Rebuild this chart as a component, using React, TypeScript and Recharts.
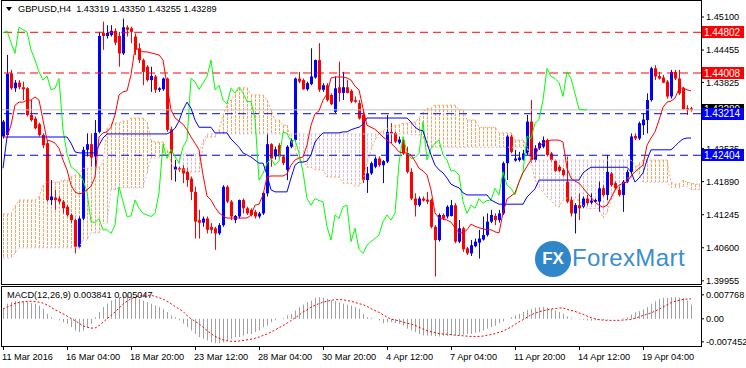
import React from "react";
import { ComposedChart, Bar, Line, XAxis, YAxis, ReferenceLine } from "recharts";

const FONT = '"Liberation Sans", Arial, sans-serif';

// GBPUSD H4, one candle per slot: [open, high, low, close]
const ohlc: [number, number, number, number][] = [
  [1.4277, 1.4309, 1.4273, 1.4306], [1.428, 1.4436, 1.4275, 1.4399], [1.44, 1.4407, 1.4368, 1.4371], [1.4371, 1.4387, 1.4364, 1.4382], [1.4382, 1.4387, 1.4369, 1.4373],
  [1.4373, 1.4384, 1.4348, 1.4369], [1.4371, 1.4373, 1.4316, 1.4319], [1.4319, 1.4348, 1.4306, 1.4309], [1.4312, 1.4316, 1.4291, 1.4293], [1.4301, 1.4304, 1.4277, 1.428],
  [1.428, 1.4283, 1.4254, 1.426], [1.4264, 1.427, 1.415, 1.4153], [1.4153, 1.4192, 1.4143, 1.416], [1.4158, 1.4173, 1.4134, 1.4153], [1.4156, 1.416, 1.4145, 1.415],
  [1.415, 1.4153, 1.4127, 1.4137], [1.414, 1.4143, 1.4121, 1.4124], [1.4124, 1.4127, 1.4109, 1.4114], [1.4114, 1.4117, 1.4049, 1.4062], [1.4062, 1.4121, 1.4059, 1.4117],
  [1.4117, 1.4257, 1.4114, 1.4251], [1.4251, 1.4283, 1.4238, 1.4262], [1.4262, 1.4283, 1.4218, 1.4236], [1.4238, 1.4309, 1.4218, 1.4284], [1.4286, 1.4481, 1.4283, 1.4473],
  [1.4479, 1.4501, 1.4446, 1.4473], [1.4473, 1.4494, 1.4468, 1.4479], [1.4475, 1.4494, 1.4472, 1.4483], [1.4483, 1.4488, 1.4455, 1.446], [1.4473, 1.4481, 1.4413, 1.4439],
  [1.4439, 1.4507, 1.4436, 1.449], [1.449, 1.4494, 1.4472, 1.4485], [1.4488, 1.4491, 1.4459, 1.4481], [1.4472, 1.4478, 1.4436, 1.4446], [1.4449, 1.4459, 1.442, 1.4426],
  [1.4426, 1.4429, 1.4377, 1.4403], [1.4413, 1.4416, 1.4384, 1.4387], [1.4387, 1.4413, 1.4364, 1.4395], [1.4394, 1.4397, 1.4362, 1.4368], [1.4368, 1.4373, 1.4364, 1.4371],
  [1.4369, 1.4392, 1.4366, 1.439], [1.439, 1.4392, 1.4286, 1.429], [1.4291, 1.4296, 1.4192, 1.4244], [1.4212, 1.4231, 1.4189, 1.4218], [1.4215, 1.4218, 1.4208, 1.4212],
  [1.4215, 1.4221, 1.4186, 1.4205], [1.4208, 1.4215, 1.4179, 1.4192], [1.4195, 1.4199, 1.4153, 1.4169], [1.4169, 1.4179, 1.4078, 1.4111], [1.4114, 1.4134, 1.4078, 1.4109],
  [1.4109, 1.4121, 1.4101, 1.4117], [1.4117, 1.4121, 1.4088, 1.4095], [1.4101, 1.4108, 1.4088, 1.4095], [1.4098, 1.4101, 1.4056, 1.4088], [1.4088, 1.4108, 1.4085, 1.4104],
  [1.4104, 1.4182, 1.4101, 1.4179], [1.4179, 1.4182, 1.4147, 1.415], [1.415, 1.4153, 1.4114, 1.4121], [1.4114, 1.4124, 1.4108, 1.4122], [1.4121, 1.4154, 1.4117, 1.4153],
  [1.4153, 1.4156, 1.4127, 1.4137], [1.4137, 1.414, 1.4124, 1.4127], [1.4134, 1.4137, 1.4121, 1.4124], [1.413, 1.4134, 1.4117, 1.4121], [1.4121, 1.413, 1.4117, 1.4127],
  [1.4127, 1.4169, 1.4124, 1.4167], [1.4166, 1.4283, 1.416, 1.4262], [1.4262, 1.4264, 1.4218, 1.4234], [1.4238, 1.4257, 1.4232, 1.4252], [1.426, 1.4264, 1.4234, 1.4238],
  [1.4238, 1.4241, 1.4221, 1.4225], [1.4212, 1.426, 1.4192, 1.4257], [1.4257, 1.4273, 1.4254, 1.427], [1.427, 1.4392, 1.4267, 1.439], [1.439, 1.4403, 1.4381, 1.4384],
  [1.4387, 1.439, 1.4368, 1.4369], [1.4369, 1.4384, 1.4366, 1.4381], [1.4379, 1.4449, 1.4377, 1.4394], [1.4392, 1.4427, 1.439, 1.4426], [1.4426, 1.4459, 1.4364, 1.4368],
  [1.4368, 1.4381, 1.4364, 1.4377], [1.4377, 1.4381, 1.4345, 1.4348], [1.4358, 1.4361, 1.4338, 1.434], [1.4325, 1.4394, 1.4322, 1.4371], [1.4373, 1.4423, 1.4345, 1.4362],
  [1.4362, 1.4403, 1.4348, 1.4373], [1.4373, 1.4387, 1.4361, 1.4362], [1.4366, 1.4369, 1.4342, 1.4345], [1.4348, 1.4355, 1.4342, 1.4345], [1.4342, 1.4348, 1.431, 1.4312],
  [1.4319, 1.4325, 1.4186, 1.4192], [1.4192, 1.4218, 1.4167, 1.4205], [1.4205, 1.4228, 1.4202, 1.4225], [1.4218, 1.4238, 1.4215, 1.4234], [1.4234, 1.4238, 1.4218, 1.4221],
  [1.4221, 1.4231, 1.4186, 1.4229], [1.4228, 1.4319, 1.4225, 1.4286], [1.4286, 1.4303, 1.4264, 1.4283], [1.4284, 1.4286, 1.4264, 1.4267], [1.4265, 1.4277, 1.4262, 1.4271],
  [1.427, 1.4273, 1.4241, 1.4244], [1.4244, 1.4257, 1.4205, 1.4208], [1.4208, 1.4215, 1.4153, 1.4156], [1.4156, 1.4166, 1.4121, 1.4143], [1.4143, 1.416, 1.414, 1.4156],
  [1.4156, 1.416, 1.415, 1.4152], [1.4154, 1.4169, 1.4145, 1.415], [1.4153, 1.4156, 1.4098, 1.4101], [1.4101, 1.4104, 1.4004, 1.4075], [1.4075, 1.4127, 1.4072, 1.4124],
  [1.4124, 1.4127, 1.4114, 1.4117], [1.4121, 1.4143, 1.4117, 1.414], [1.4122, 1.4153, 1.4121, 1.4143], [1.4143, 1.4147, 1.4069, 1.4072], [1.4072, 1.4114, 1.4069, 1.4098],
  [1.4098, 1.4101, 1.4052, 1.4057], [1.4059, 1.4062, 1.4046, 1.4049], [1.4049, 1.4075, 1.4044, 1.4065], [1.4063, 1.4078, 1.4061, 1.4072], [1.407, 1.4095, 1.4039, 1.4078],
  [1.4076, 1.4121, 1.4074, 1.4085], [1.4085, 1.4127, 1.4082, 1.4111], [1.4111, 1.4134, 1.4108, 1.4124], [1.4122, 1.4127, 1.4104, 1.4114], [1.4114, 1.4134, 1.4109, 1.4127],
  [1.4127, 1.4228, 1.4124, 1.4225], [1.4225, 1.428, 1.4192, 1.4277], [1.4277, 1.428, 1.4244, 1.4247], [1.423, 1.4251, 1.4228, 1.4234], [1.4231, 1.4247, 1.4228, 1.4236],
  [1.4232, 1.4251, 1.423, 1.4244], [1.4244, 1.4319, 1.4241, 1.4306], [1.4306, 1.4348, 1.4225, 1.4231], [1.4231, 1.426, 1.4228, 1.4254], [1.4254, 1.4267, 1.4251, 1.4264],
  [1.4257, 1.4277, 1.4254, 1.427], [1.427, 1.4273, 1.4238, 1.4241], [1.4244, 1.4247, 1.4228, 1.4231], [1.423, 1.4232, 1.4208, 1.421], [1.4218, 1.4221, 1.4208, 1.421],
  [1.4212, 1.4215, 1.4199, 1.4202], [1.4189, 1.4238, 1.4147, 1.415], [1.4153, 1.416, 1.4121, 1.4127], [1.4127, 1.4147, 1.4088, 1.4143], [1.4143, 1.4166, 1.4114, 1.4137],
  [1.414, 1.416, 1.4137, 1.4156], [1.4156, 1.4163, 1.4143, 1.4147], [1.4148, 1.4166, 1.4145, 1.4152], [1.415, 1.4156, 1.4147, 1.4153], [1.415, 1.4189, 1.413, 1.4176],
  [1.4176, 1.4182, 1.416, 1.4163], [1.4163, 1.4241, 1.4153, 1.4208], [1.4205, 1.4208, 1.4179, 1.4182], [1.4186, 1.4189, 1.4173, 1.4176], [1.4173, 1.4179, 1.416, 1.4163],
  [1.4163, 1.4192, 1.413, 1.4189], [1.4189, 1.4212, 1.4186, 1.4208], [1.4208, 1.4283, 1.4205, 1.4277], [1.4278, 1.4283, 1.427, 1.4273], [1.4273, 1.4306, 1.427, 1.4303],
  [1.4299, 1.4322, 1.428, 1.431], [1.4309, 1.4361, 1.4283, 1.4348], [1.4348, 1.4413, 1.4345, 1.441], [1.441, 1.4416, 1.4387, 1.4394], [1.4395, 1.4403, 1.4388, 1.439],
  [1.4392, 1.4397, 1.4381, 1.4382], [1.4384, 1.4387, 1.4351, 1.4355], [1.4355, 1.4407, 1.4351, 1.4403], [1.4403, 1.4407, 1.4387, 1.439], [1.439, 1.4407, 1.4358, 1.4361],
  [1.4371, 1.4374, 1.4329, 1.433], [1.4332, 1.4338, 1.4319, 1.4329], [1.43319, 1.4335, 1.43255, 1.43289],
];

// Ichimoku Tenkan-sen (red)
const tenkan = [
  1.4276, 1.4276, 1.4299, 1.4338, 1.4344, 1.4344, 1.4348, 1.4348, 1.4354, 1.4348,
  1.4309, 1.427, 1.4268, 1.4264, 1.4254, 1.4231, 1.4212, 1.4182, 1.4169, 1.4165,
  1.4167, 1.4173, 1.418, 1.4198, 1.4276, 1.4284, 1.4286, 1.4295, 1.4319, 1.4358,
  1.4364, 1.4366, 1.4397, 1.445, 1.4446, 1.4442, 1.4442, 1.444, 1.4438, 1.4436,
  1.4426, 1.4377, 1.4329, 1.4313, 1.4307, 1.4301, 1.429, 1.4276, 1.4264, 1.4251,
  1.4202, 1.4161, 1.4153, 1.4139, 1.4128, 1.4122, 1.4118, 1.4118, 1.4118, 1.4118,
  1.4118, 1.4118, 1.4124, 1.4143, 1.4145, 1.4163, 1.4198, 1.42, 1.42, 1.42,
  1.42, 1.4204, 1.4221, 1.4231, 1.4235, 1.4237, 1.426, 1.4299, 1.4321, 1.4327,
  1.4348, 1.436, 1.4391, 1.4393, 1.4393, 1.4393, 1.4391, 1.4387, 1.4375, 1.4368,
  1.4332, 1.4299, 1.4295, 1.4291, 1.4284, 1.4276, 1.427, 1.4264, 1.4256, 1.4247,
  1.4245, 1.4245, 1.4241, 1.4229, 1.4215, 1.421, 1.4202, 1.4173, 1.4128, 1.4118,
  1.4116, 1.4114, 1.411, 1.4099, 1.4089, 1.4089, 1.4095, 1.4106, 1.4102, 1.4099,
  1.4097, 1.4095, 1.4095, 1.4091, 1.4089, 1.4128, 1.4155, 1.4161, 1.4167, 1.4188,
  1.4206, 1.4219, 1.4231, 1.4237, 1.4258, 1.4264, 1.4268, 1.427, 1.427, 1.427,
  1.4266, 1.4215, 1.4196, 1.419, 1.4186, 1.4177, 1.4167, 1.4159, 1.4149, 1.4143,
  1.4139, 1.4143, 1.4157, 1.4173, 1.4182, 1.4186, 1.4188, 1.42, 1.4208, 1.4215,
  1.4221, 1.426, 1.4274, 1.4286, 1.4309, 1.4334, 1.4344, 1.4346, 1.4352, 1.437,
  1.4372, 1.4368, 1.4366,
];

// Ichimoku Kijun-sen (blue)
const kijun = [
  1.4215, 1.4276, 1.4276, 1.4276, 1.4276, 1.4276, 1.4276, 1.4276, 1.4276, 1.4276,
  1.4276, 1.4276, 1.4276, 1.4276, 1.4276, 1.4276, 1.4276, 1.4264, 1.4247, 1.4245,
  1.4245, 1.4245, 1.4245, 1.4245, 1.426, 1.4274, 1.4282, 1.4282, 1.4282, 1.4282,
  1.4282, 1.4282, 1.4282, 1.4282, 1.4282, 1.4282, 1.4282, 1.4282, 1.4282, 1.4282,
  1.4282, 1.4282, 1.4286, 1.4293, 1.4307, 1.4329, 1.4344, 1.4332, 1.4309, 1.4295,
  1.4295, 1.4295, 1.4295, 1.4284, 1.4284, 1.4284, 1.4284, 1.4272, 1.4264, 1.4256,
  1.4245, 1.4241, 1.4237, 1.4231, 1.4225, 1.4225, 1.4202, 1.4173, 1.4169, 1.4169,
  1.4169, 1.4169, 1.4196, 1.4221, 1.4227, 1.4227, 1.4229, 1.4241, 1.4266, 1.4276,
  1.4284, 1.4284, 1.4284, 1.4284, 1.4284, 1.4286, 1.4286, 1.429, 1.4293, 1.4295,
  1.4301, 1.4313, 1.4313, 1.4313, 1.4313, 1.4313, 1.4313, 1.4313, 1.4313, 1.4313,
  1.4313, 1.4313, 1.4305, 1.4295, 1.429, 1.4288, 1.4264, 1.4241, 1.4221, 1.4212,
  1.4206, 1.4196, 1.4184, 1.418, 1.4177, 1.4167, 1.4163, 1.4163, 1.4163, 1.4163,
  1.4163, 1.4163, 1.4153, 1.4149, 1.4145, 1.4145, 1.4145, 1.4145, 1.4145, 1.4145,
  1.4145, 1.4159, 1.4167, 1.4175, 1.4192, 1.4192, 1.4192, 1.4192, 1.4192, 1.4192,
  1.4192, 1.4192, 1.4192, 1.4192, 1.4192, 1.4206, 1.4212, 1.4217, 1.4217, 1.4217,
  1.4217, 1.4217, 1.4217, 1.4217, 1.4217, 1.4217, 1.4217, 1.4208, 1.4188, 1.4196,
  1.4206, 1.4231, 1.4251, 1.4251, 1.4251, 1.4251, 1.4251, 1.4251, 1.4258, 1.4266,
  1.4272, 1.4274, 1.4274,
];

// Senkou Span A (sandy brown), already shifted 26 bars ahead
const spanA = [
  1.4126, 1.4126, 1.4126, 1.4141, 1.4153, 1.4153, 1.4153, 1.4153, 1.4153, 1.4159,
  1.4182, 1.4188, 1.4188, 1.4188, 1.4188, 1.4192, 1.4192, 1.4198, 1.4202, 1.4202,
  1.4215, 1.4215, 1.4215, 1.4217, 1.4217, 1.4225, 1.4293, 1.4303, 1.4303, 1.4303,
  1.4307, 1.4307, 1.4313, 1.4313, 1.4313, 1.4313, 1.4305, 1.427, 1.4266, 1.4266,
  1.4266, 1.4251, 1.4227, 1.4212, 1.4212, 1.4212, 1.4212, 1.4208, 1.4208, 1.4208,
  1.426, 1.4276, 1.4276, 1.4276, 1.429, 1.4319, 1.4338, 1.4348, 1.4358, 1.4372,
  1.4372, 1.4372, 1.4358, 1.4358, 1.4358, 1.4358, 1.4348, 1.4329, 1.4309, 1.4309,
  1.4299, 1.4299, 1.427, 1.4251, 1.4231, 1.4231, 1.4217, 1.4217, 1.4212, 1.4212,
  1.4212, 1.4198, 1.4198, 1.4198, 1.4198, 1.4186, 1.4186, 1.4186, 1.418, 1.418,
  1.4192, 1.4225, 1.4251, 1.427, 1.4284, 1.4288, 1.4293, 1.4293, 1.4299, 1.4299,
  1.4303, 1.4303, 1.4305, 1.4305, 1.4313, 1.4325, 1.4332, 1.4332, 1.4338, 1.4338,
  1.4338, 1.4338, 1.4338, 1.4338, 1.4329, 1.4329, 1.4309, 1.4309, 1.4309, 1.4295,
  1.4295, 1.4295, 1.4295, 1.4295, 1.4284, 1.4284, 1.4284, 1.4284, 1.427, 1.427,
  1.427, 1.4258, 1.4231, 1.4192, 1.4178, 1.4169, 1.4159, 1.4153, 1.4143, 1.4139,
  1.4153, 1.4157, 1.4153, 1.4153, 1.4153, 1.4143, 1.4137, 1.4137, 1.4137, 1.4137,
  1.4118, 1.4128, 1.4153, 1.4169, 1.4178, 1.4186, 1.4196, 1.4196, 1.4212, 1.4225,
  1.4231, 1.4231, 1.4231, 1.4231, 1.4231, 1.4231, 1.4231, 1.4188, 1.4184, 1.4184,
  1.4192, 1.4188, 1.4186, 1.4184, 1.4184,
];

// Senkou Span B (thistle), already shifted 26 bars ahead
const spanB = [
  1.404, 1.404, 1.404, 1.405, 1.406, 1.406, 1.406, 1.406, 1.406, 1.406,
  1.406, 1.406, 1.406, 1.406, 1.406, 1.406, 1.406, 1.406, 1.406, 1.406,
  1.4075, 1.4075, 1.4089, 1.4089, 1.4089, 1.4108, 1.4108, 1.4173, 1.4173, 1.4177,
  1.4177, 1.4177, 1.4177, 1.4177, 1.4177, 1.4177, 1.4206, 1.4235, 1.4235, 1.4235,
  1.4241, 1.4241, 1.4241, 1.4241, 1.4243, 1.4243, 1.4243, 1.4243, 1.4243, 1.4243,
  1.427, 1.4282, 1.4282, 1.4282, 1.4282, 1.4282, 1.4282, 1.4282, 1.4282, 1.4282,
  1.4282, 1.4282, 1.4282, 1.4282, 1.4282, 1.4282, 1.4282, 1.4282, 1.4282, 1.4282,
  1.4282, 1.4282, 1.4282, 1.4282, 1.4282, 1.4282, 1.4282, 1.4282, 1.4282, 1.4282,
  1.4282, 1.4282, 1.4282, 1.4282, 1.4282, 1.4282, 1.4282, 1.4282, 1.4282, 1.4282,
  1.4282, 1.4282, 1.4282, 1.4282, 1.4282, 1.4282, 1.4282, 1.4282, 1.4282, 1.4282,
  1.4282, 1.4282, 1.428, 1.428, 1.428, 1.427, 1.4256, 1.4256, 1.4256, 1.4256,
  1.4256, 1.4256, 1.4256, 1.4256, 1.4256, 1.4256, 1.4256, 1.4256, 1.4256, 1.4256,
  1.4256, 1.4256, 1.4256, 1.4256, 1.4256, 1.4256, 1.4256, 1.4256, 1.4256, 1.4256,
  1.4256, 1.4256, 1.4231, 1.4231, 1.4231, 1.4231, 1.4231, 1.4231, 1.4231, 1.4231,
  1.4231, 1.4231, 1.4231, 1.4231, 1.4231, 1.4231, 1.4231, 1.4231, 1.4231, 1.4231,
  1.4231, 1.4231, 1.4231, 1.4231, 1.4231, 1.4231, 1.4231, 1.4231, 1.4221, 1.4202,
  1.4188, 1.4188, 1.4188, 1.4188, 1.4188, 1.4188, 1.4188, 1.4177, 1.4177, 1.4177,
  1.418, 1.418, 1.4173, 1.4173, 1.4173,
];

// MACD(12,26,9): main (grey histogram) and signal (red dots)
const macdMain = [
  0.0032, 0.0049, 0.0054, 0.0057, 0.0057, 0.0057, 0.0054, 0.0051, 0.0049, 0.0043,
  0.0032, 0.0016, 0.0005, 0, -0.0005, -0.0011, -0.0016, -0.0027, -0.0038, -0.0043,
  -0.0038, -0.0027, -0.0016, 0.0005, 0.0022, 0.0038, 0.0049, 0.0059, 0.0065, 0.007,
  0.0076, 0.0076, 0.0073, 0.007, 0.0065, 0.0059, 0.0054, 0.0049, 0.0043, 0.0038,
  0.0032, 0.0022, 0.0011, 0.0005, -0.0005, -0.0016, -0.0027, -0.0038, -0.0049, -0.0059,
  -0.0065, -0.007, -0.0076, -0.0079, -0.0079, -0.0076, -0.007, -0.0065, -0.0059, -0.0059,
  -0.0054, -0.0049, -0.0049, -0.0043, -0.0038, -0.0027, -0.0022, -0.0011, -0.0005, 0,
  0.0003, 0.0011, 0.0016, 0.0027, 0.0038, 0.0046, 0.0054, 0.0059, 0.0068, 0.007,
  0.0068, 0.0065, 0.0059, 0.0057, 0.0054, 0.0049, 0.0046, 0.0043, 0.0038, 0.0032,
  0.0016, 0.0005, 0.0003, 0, -0.0005, -0.0014, -0.0011, -0.0011, -0.0014, -0.0016,
  -0.0022, -0.0032, -0.0038, -0.0043, -0.0049, -0.0054, -0.0054, -0.0055, -0.0056, -0.0057,
  -0.0056, -0.0055, -0.0054, -0.0053, -0.0052, -0.0051, -0.0049, -0.0049, -0.0045, -0.0043,
  -0.0038, -0.0032, -0.0027, -0.0022, -0.0014, -0.0008, 0, 0.0005, 0.0011, 0.0016,
  0.0022, 0.0029, 0.0032, 0.0036, 0.0038, 0.0038, 0.0036, 0.0032, 0.0027, 0.0022,
  0.0016, 0.0008, 0.0003, 0, -0.0002, -0.0003, -0.0005, -0.0006, -0.0005, -0.0003,
  -0.0003, -0.0002, -0.0001, -0.0001, 0, 0.0002, 0.0005, 0.0014, 0.0021, 0.0025,
  0.0031, 0.0038, 0.0049, 0.0057, 0.0064, 0.0068, 0.0068, 0.007, 0.007, 0.0069,
  0.0067, 0.0059, 0.0046,
];

const macdSignal = [
  0.0032, 0.0038, 0.0043, 0.005, 0.0053, 0.0055, 0.0056, 0.0057, 0.0056, 0.0054,
  0.0051, 0.0045, 0.0038, 0.0029, 0.0023, 0.0016, 0.0009, 0.0001, -0.0006, -0.0014,
  -0.0023, -0.0027, -0.003, -0.003, -0.0022, -0.0011, 0, 0.0011, 0.0022, 0.0035,
  0.0049, 0.0057, 0.0065, 0.007, 0.0073, 0.0076, 0.0076, 0.0076, 0.0073, 0.0068,
  0.0064, 0.0057, 0.0049, 0.004, 0.0032, 0.0024, 0.0011, 0, -0.0008, -0.0016,
  -0.0027, -0.0038, -0.0048, -0.0057, -0.0063, -0.0068, -0.0071, -0.0073, -0.0073, -0.0072,
  -0.007, -0.0068, -0.0066, -0.0063, -0.0059, -0.0054, -0.0049, -0.0043, -0.0036, -0.0029,
  -0.0022, -0.0014, -0.0006, 0.0003, 0.0012, 0.0022, 0.0029, 0.0038, 0.0044, 0.0049,
  0.0054, 0.0057, 0.006, 0.0062, 0.0062, 0.0062, 0.0059, 0.0057, 0.0053, 0.0049,
  0.0046, 0.004, 0.0033, 0.0027, 0.0021, 0.0013, 0.0006, -0.0001, -0.0004, -0.0006,
  -0.0011, -0.0014, -0.0017, -0.0021, -0.0027, -0.0033, -0.0038, -0.0042, -0.0045, -0.0048,
  -0.0049, -0.005, -0.0051, -0.0053, -0.0054, -0.0055, -0.0056, -0.0057, -0.0057, -0.0057,
  -0.0056, -0.0053, -0.0051, -0.0048, -0.0044, -0.004, -0.0033, -0.0027, -0.0018, -0.001,
  -0.0003, 0.0005, 0.0013, 0.0018, 0.0023, 0.0026, 0.0029, 0.0032, 0.0033, 0.0035,
  0.0035, 0.0031, 0.0027, 0.0024, 0.0019, 0.0015, 0.0009, 0.0004, 0, -0.0003,
  -0.0004, -0.0005, -0.0005, -0.0005, -0.0005, -0.0004, -0.0003, -0.0002, 0.0002, 0.0006,
  0.0011, 0.0015, 0.0019, 0.0025, 0.0031, 0.0038, 0.0045, 0.0052, 0.0057, 0.006,
  0.0063, 0.0064, 0.0065,
];

const timeLabels = [
  "11 Mar 2016", "16 Mar 04:00", "18 Mar 20:00", "23 Mar 12:00", "28 Mar 04:00", "30 Mar 20:00",
  "4 Apr 12:00", "7 Apr 04:00", "11 Apr 20:00", "14 Apr 12:00", "19 Apr 04:00",
];
const timeTickIdx = [0, 16, 32, 48, 64, 80, 96, 112, 128, 144, 160];

// 1.43180 sits under the price tags in the original, so it is left out
const priceTicks = [1.451, 1.44455, 1.43825, 1.42535, 1.4189, 1.41245, 1.406, 1.39955];
const macdTicks = [0.007768, 0, -0.007452];

const levels = [
  { price: 1.44802, color: "#ff0000" },
  { price: 1.44008, color: "#ff0000" },
  { price: 1.43214, color: "#0000ff" },
  { price: 1.42404, color: "#0000ff" },
];
const bid = 1.43289;

const P_MIN = 1.39874;
const P_MAX = 1.45412;

const rows = spanA.map((a, i) => {
  const k = ohlc[i];
  const b = spanB[i];
  const lag = ohlc[i + 26];
  return {
    i,
    o: k ? k[0] : null,
    h: k ? k[1] : null,
    l: k ? k[2] : null,
    c: k ? k[3] : null,
    range: k ? [k[2], k[1]] : null,
    tenkan: i < tenkan.length ? tenkan[i] : null,
    kijun: i < kijun.length ? kijun[i] : null,
    chikou: lag ? lag[3] : null,
    spanA: a,
    spanB: b,
    cloud: [Math.min(a, b), Math.max(a, b)],
    hist: i < macdMain.length ? macdMain[i] : null,
    signal: i < macdSignal.length ? macdSignal[i] : null,
  };
});

function Candle(props: any) {
  const { x, y, width, height, payload } = props;
  if (!payload || payload.o == null) return null;
  const top = Math.min(y, y + height);
  const h = Math.abs(height);
  const span = payload.h - payload.l;
  const py = (v: number) => (span > 0 ? top + ((payload.h - v) / span) * h : top);
  const cx = Math.round(x + width / 2);
  const color = payload.c >= payload.o ? "#0000ff" : "#ff0000";
  const bTop = py(Math.max(payload.o, payload.c));
  const bBot = py(Math.min(payload.o, payload.c));
  return (
    <g>
      <line x1={cx + 0.5} x2={cx + 0.5} y1={top} y2={top + h} stroke={color} strokeWidth={1} />
      <rect x={cx - 1} y={bTop} width={3} height={Math.max(1, bBot - bTop)} fill={color} />
    </g>
  );
}

function CloudHatch(props: any) {
  const { x, y, width, height, payload } = props;
  if (!payload) return null;
  const top = Math.min(y, y + height);
  const h = Math.abs(height);
  if (h < 1) return null;
  const cx = Math.round(x + width / 2) + 0.5;
  const color = payload.spanA >= payload.spanB ? "#f4a460" : "#d8bfd8";
  return <line x1={cx} x2={cx} y1={top} y2={top + h} stroke={color} strokeDasharray="3 1" />;
}

function HistBar(props: any) {
  const { x, y, width, height } = props;
  const top = Math.min(y, y + height);
  const h = Math.abs(height);
  if (h < 0.5) return null;
  return <rect x={Math.round(x + width / 2)} y={top} width={1} height={h} fill="#a0a0a0" />;
}

function PriceTag(props: any) {
  const { viewBox, text, bg } = props;
  if (!viewBox) return null;
  const x = viewBox.x + viewBox.width + 1;
  const y = viewBox.y;
  return (
    <g>
      <rect x={x} y={Math.round(y) - 6} width={42} height={12} fill={bg} />
      <text x={x + 2} y={y + 3.5} fill="#ffffff" fontSize={10} fontFamily={FONT}>
        {text}
      </text>
    </g>
  );
}

const priceTick = (p: any) => (
  <text x={p.x} y={p.y} dy={3.2} fontSize={9.2} fontFamily={FONT} fill="#000" textAnchor="start">
    {Number(p.payload.value).toFixed(5)}
  </text>
);

const macdTick = (p: any) => (
  <text x={p.x} y={p.y} dy={3.2} fontSize={9.2} fontFamily={FONT} fill="#000" textAnchor="start">
    {p.payload.value === 0 ? "0.00" : Number(p.payload.value).toFixed(6)}
  </text>
);

const timeTick = (p: any) => {
  const idx = timeTickIdx.indexOf(p.payload.value);
  return (
    <g>
      <line x1={p.x + 0.5} x2={p.x + 0.5} y1={p.y} y2={p.y + 4} stroke="#000" />
      <text x={p.x - 1} y={p.y + 13.5} fontSize={9.2} fontFamily={FONT} fill="#000" textAnchor="start">
        {timeLabels[idx]}
      </text>
    </g>
  );
};

export default function App() {
  return (
    <div
      style={{
        position: "relative",
        width: 746,
        height: 368,
        background: "#ffffff",
        overflow: "hidden",
        fontFamily: FONT,
      }}
    >
      <style>{"body{margin:0}"}</style>

      {/* price panel */}
      <div style={{ position: "absolute", left: 0, top: 0 }}>
        <ComposedChart
          width={746}
          height={287}
          data={rows}
          margin={{ top: 1, right: 0, bottom: 2, left: 1 }}
          barCategoryGap={0}
          barGap={0}
        >
          <XAxis xAxisId="cloud" dataKey="i" hide />
          <XAxis xAxisId="px" dataKey="i" hide />
          <YAxis
            orientation="right"
            width={45}
            domain={[P_MIN, P_MAX]}
            allowDataOverflow
            ticks={priceTicks}
            interval={0}
            axisLine={false}
            tickLine={{ stroke: "#000" }}
            tickSize={3}
            tickMargin={2}
            tick={priceTick}
          />
          <Bar xAxisId="cloud" dataKey="cloud" shape={CloudHatch} isAnimationActive={false} />
          <Line xAxisId="px" dataKey="spanA" stroke="#f4a460" strokeWidth={1} strokeDasharray="2 2" dot={false} isAnimationActive={false} />
          <Line xAxisId="px" dataKey="spanB" stroke="#d8bfd8" strokeWidth={1} strokeDasharray="2 2" dot={false} isAnimationActive={false} />
          <ReferenceLine xAxisId="px" y={bid} stroke="#c0c0c0" strokeWidth={1} />
          {levels.map((lv) => (
            <ReferenceLine key={lv.price} xAxisId="px" y={lv.price} stroke={lv.color} strokeDasharray="8 5" strokeWidth={1} />
          ))}
          <Line xAxisId="px" dataKey="chikou" stroke="#00ff00" strokeWidth={1} dot={false} isAnimationActive={false} />
          <Line xAxisId="px" dataKey="kijun" stroke="#0000ff" strokeWidth={1} dot={false} isAnimationActive={false} />
          <Line xAxisId="px" dataKey="tenkan" stroke="#ff0000" strokeWidth={1} dot={false} isAnimationActive={false} />
          <Bar xAxisId="px" dataKey="range" shape={Candle} isAnimationActive={false} />
        </ComposedChart>
      </div>

      {/* price tags on the right scale */}
      <div style={{ position: "absolute", left: 0, top: 0, pointerEvents: "none" }}>
        <ComposedChart width={746} height={287} data={rows} margin={{ top: 1, right: 45, bottom: 2, left: 1 }}>
          <XAxis dataKey="i" hide />
          <YAxis hide domain={[P_MIN, P_MAX]} allowDataOverflow />
          <ReferenceLine
            y={bid}
            stroke="none"
            label={(p: any) => <PriceTag {...p} text={bid.toFixed(5)} bg="#000000" />}
          />
          {levels.map((lv) => (
            <ReferenceLine
              key={lv.price}
              y={lv.price}
              stroke="none"
              label={(p: any) => <PriceTag {...p} text={lv.price.toFixed(5)} bg={lv.color} />}
            />
          ))}
        </ComposedChart>
      </div>

      {/* MACD panel + time scale */}
      <div style={{ position: "absolute", left: 0, top: 286 }}>
        <ComposedChart
          width={746}
          height={81}
          data={rows}
          margin={{ top: 1, right: 0, bottom: 0, left: 1 }}
          barCategoryGap={0}
        >
          <XAxis
            dataKey="i"
            ticks={timeTickIdx}
            interval={0}
            height={21}
            axisLine={false}
            tickLine={false}
            tickSize={0}
            tickMargin={0}
            tick={timeTick}
          />
          <YAxis
            orientation="right"
            width={45}
            domain={[-0.0088, 0.0103]}
            allowDataOverflow
            ticks={macdTicks}
            interval={0}
            axisLine={false}
            tickLine={{ stroke: "#000" }}
            tickSize={3}
            tickMargin={2}
            tick={macdTick}
          />
          <Bar dataKey="hist" shape={HistBar} isAnimationActive={false} />
          <Line dataKey="signal" stroke="#ff0000" strokeWidth={1} strokeDasharray="2 2" dot={false} isAnimationActive={false} />
        </ComposedChart>
      </div>

      {/* panel frames */}
      <div style={{ position: "absolute", left: 1, top: 0, width: 701, height: 285, border: "1px solid #000", boxSizing: "border-box", pointerEvents: "none" }} />
      <div style={{ position: "absolute", left: 1, top: 286, width: 701, height: 61, border: "1px solid #000", boxSizing: "border-box", pointerEvents: "none" }} />

      {/* symbol header */}
      <div
        style={{
          position: "absolute",
          left: 6,
          top: 7,
          width: 0,
          height: 0,
          borderLeft: "3.5px solid transparent",
          borderRight: "3.5px solid transparent",
          borderTop: "4px solid #000",
        }}
      />
      <div style={{ position: "absolute", left: 18, top: 3, fontSize: 9.2, lineHeight: "12px", color: "#000", whiteSpace: "pre" }}>
        {"GBPUSD,H4  1.43319 1.43350 1.43255 1.43289"}
      </div>
      <div style={{ position: "absolute", left: 7, top: 289, fontSize: 9.2, lineHeight: "12px", color: "#000", whiteSpace: "pre" }}>
        {"MACD(12,26,9) 0.003841 0.005047"}
      </div>

      {/* watermark */}
      <div
        style={{
          position: "absolute",
          left: 535,
          top: 241,
          width: 36,
          height: 36,
          borderRadius: "50%",
          background: "#2f86c8",
          color: "#fff",
          fontSize: 17,
          fontWeight: 700,
          lineHeight: "36px",
          textAlign: "center",
        }}
      >
        FX
      </div>
      <div
        style={{
          position: "absolute",
          left: 572,
          top: 244,
          fontSize: 24,
          lineHeight: "28px",
          color: "#3b8dd0",
          letterSpacing: 0.4,
        }}
      >
        ForexMart
      </div>
    </div>
  );
}
